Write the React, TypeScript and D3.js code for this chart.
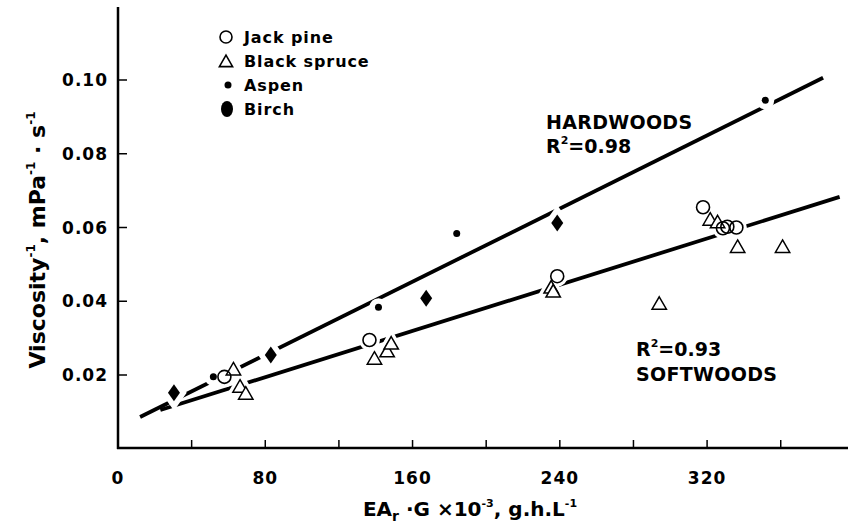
import React from "react";
import * as d3 from "d3";

// values
const jackPineX = [57.8, 136.6, 238.6, 317.8, 328.6, 331, 335.9];
const jackPineY = [0.0195, 0.0295, 0.0468, 0.0655, 0.0598, 0.0602, 0.06];

const blackSpruceX = [62.7, 66.3, 69.4, 139.3, 146.2, 148.4, 235.3, 236.4, 294, 321.7, 325.7, 336.6, 361];
const blackSpruceY = [0.0214, 0.0167, 0.0148, 0.0243, 0.0263, 0.0284, 0.0436, 0.0425, 0.0392, 0.062, 0.0613, 0.0546, 0.0546];

const aspenX = [51.8, 141.5, 184, 351.6];
const aspenY = [0.0195, 0.0384, 0.0584, 0.0945];

const birchX = [30.4, 83, 167.4, 238.6];
const birchY = [0.0152, 0.0254, 0.0408, 0.0612];

// fitted lines (end points)
const hardwoodLineX = [12, 383];
const hardwoodLineY = [0.0086, 0.1006];
const softwoodLineX = [23, 392];
const softwoodLineY = [0.0105, 0.0683];

const xTicks = [0, 40, 80, 120, 160, 200, 240, 280, 320, 360];
const xTickLabels = [0, 80, 160, 240, 320];
const yTicks = [0.02, 0.04, 0.06, 0.08, 0.1];

const legendItems = ["Jack pine", "Black spruce", "Aspen", "Birch"];

const W = 850;
const H = 530;
const FONT = "'DejaVu Sans', Arial, sans-serif";

const x = d3.scaleLinear().domain([0, 396]).range([118, 847]);
const y = d3.scaleLinear().domain([0, 0.12]).range([448.75, 6.25]);

const zip = (xs: number[], ys: number[]) => xs.map((v, i) => [v, ys[i]] as [number, number]);

const line = d3.line<[number, number]>()
    .x(d => x(d[0]))
    .y(d => y(d[1]));

const tri = (cx: number, cy: number, s: number) =>
    `M${cx},${cy - s * 0.62} L${cx + s * 0.6},${cy + s * 0.42} L${cx - s * 0.6},${cy + s * 0.42} Z`;

const diamond = (cx: number, cy: number, w: number, h: number) =>
    `M${cx},${cy - h} L${cx + w},${cy} L${cx},${cy + h} L${cx - w},${cy} Z`;

const halo = { stroke: "#fff", fill: "#fff" };

export default function App() {
    const hard = zip(hardwoodLineX, hardwoodLineY);
    const soft = zip(softwoodLineX, softwoodLineY);
    const jp = zip(jackPineX, jackPineY);
    const bs = zip(blackSpruceX, blackSpruceY);
    const as = zip(aspenX, aspenY);
    const bi = zip(birchX, birchY);

    return (
        <svg width={W} height={H} style={{ position: "absolute", left: 0, top: 0, background: "#fff" }}
            fontFamily={FONT} fontWeight="bold">
            {/* axes */}
            <line x1={118} x2={118} y1={7} y2={449} stroke="#000" strokeWidth={2.5} />
            <line x1={117} x2={848} y1={448} y2={448} stroke="#000" strokeWidth={2.5} />
            {xTicks.map(t => (
                <line key={"xt" + t} x1={x(t)} x2={x(t)} y1={448} y2={440} stroke="#000" strokeWidth={1.5} />
            ))}
            {yTicks.map(t => (
                <line key={"yt" + t} x1={118} x2={127} y1={y(t)} y2={y(t)} stroke="#000" strokeWidth={1.5} />
            ))}
            {xTickLabels.map(t => (
                <text key={"xl" + t} x={x(t)} y={484} textAnchor="middle" fontSize={17} letterSpacing={1}>{t}</text>
            ))}
            {yTicks.map(t => (
                <text key={"yl" + t} x={108} y={y(t) + 6} textAnchor="end" fontSize={17} letterSpacing={1}>{t.toFixed(2)}</text>
            ))}

            {/* axis titles */}
            <text x={470} y={516} textAnchor="middle" fontSize={20}>
                EA<tspan fontSize={14} dy={5}>r</tspan>
                <tspan dy={-5}> ·G ×10</tspan>
                <tspan fontSize={11} dy={-9}>-3</tspan>
                <tspan dy={9}>, g.h.L</tspan>
                <tspan fontSize={11} dy={-9}>-1</tspan>
            </text>
            <text transform="translate(45,240) rotate(-90)" textAnchor="middle" fontSize={22}>
                Viscosity<tspan fontSize={12} dy={-10}>-1</tspan>
                <tspan dy={10}>, mPa</tspan>
                <tspan fontSize={12} dy={-10}>-1</tspan>
                <tspan dy={10}> · s</tspan>
                <tspan fontSize={12} dy={-10}>-1</tspan>
            </text>

            {/* fitted lines */}
            <path d={line(hard) ?? ""} stroke="#000" strokeWidth={3.8} fill="none" />
            <path d={line(soft) ?? ""} stroke="#000" strokeWidth={3.8} fill="none" />

            {/* white halos break the lines around the points */}
            {jp.map((d, i) => <circle key={"hj" + i} cx={x(d[0])} cy={y(d[1])} r={6.5} strokeWidth={8} {...halo} />)}
            {bs.map((d, i) => <path key={"hb" + i} d={tri(x(d[0]), y(d[1]), 12)} strokeWidth={8} {...halo} />)}
            {as.map((d, i) => <circle key={"ha" + i} cx={x(d[0])} cy={y(d[1])} r={3.5} strokeWidth={11} {...halo} />)}
            {bi.map((d, i) => <path key={"hi" + i} d={diamond(x(d[0]), y(d[1]), 6, 8.5)} strokeWidth={11} {...halo} />)}

            {/* points */}
            {bs.map((d, i) => (
                <path key={"bs" + i} d={tri(x(d[0]), y(d[1]), 12)} fill="#fff" stroke="#000" strokeWidth={1.5} />
            ))}
            {jp.map((d, i) => (
                <circle key={"jp" + i} cx={x(d[0])} cy={y(d[1])} r={6.5} fill="none" stroke="#000" strokeWidth={1.6} />
            ))}
            {as.map((d, i) => (
                <circle key={"as" + i} cx={x(d[0])} cy={y(d[1])} r={3.5} fill="#000" />
            ))}
            {bi.map((d, i) => (
                <path key={"bi" + i} d={diamond(x(d[0]), y(d[1]), 6, 8.5)} fill="#000" />
            ))}

            {/* fit labels */}
            <text x={546} y={129} fontSize={19} letterSpacing={0.3}>HARDWOODS</text>
            <text x={546} y={153} fontSize={19}>
                R<tspan fontSize={11} dy={-9}>2</tspan><tspan dy={9}>=0.98</tspan>
            </text>
            <text x={636} y={356} fontSize={19}>
                R<tspan fontSize={11} dy={-9}>2</tspan><tspan dy={9}>=0.93</tspan>
            </text>
            <text x={636} y={381} fontSize={19} letterSpacing={0.3}>SOFTWOODS</text>

            {/* legend */}
            <circle cx={226} cy={37} r={6} fill="none" stroke="#000" strokeWidth={1.6} />
            <path d={tri(226, 62, 11)} fill="none" stroke="#000" strokeWidth={1.6} />
            <circle cx={228} cy={85} r={3.5} fill="#000" />
            <ellipse cx={227} cy={109} rx={6} ry={8} fill="#000" />
            {legendItems.map((s, i) => (
                <text key={s} x={244} y={43 + i * 24} fontSize={16} letterSpacing={0.9}>{s}</text>
            ))}
        </svg>
    );
}
